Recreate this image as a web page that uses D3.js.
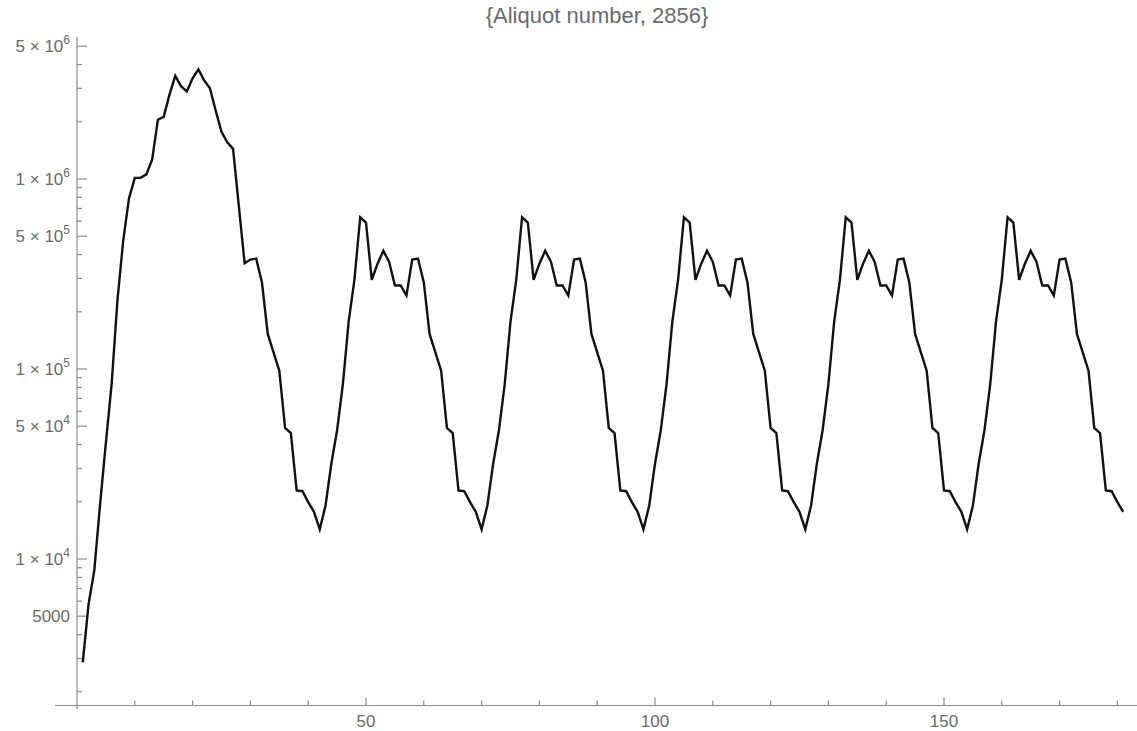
<!DOCTYPE html>
<html>
<head>
<meta charset="utf-8">
<script src="https://cdn.jsdelivr.net/npm/d3@7"></script>
<style>
  html, body { margin: 0; padding: 0; background: #fff; }
  svg { display: block; }
  text { font-family: "Liberation Sans", Arial, sans-serif; }
</style>
</head>
<body>
<svg id="chart" width="1137" height="731"></svg>
<script>
// Aliquot sequence starting at 2856 (terms 1..29, before it enters the 28-cycle)
const preperiodTerms = [
  2856, 5784, 8736, 19488, 40992, 84000, 230496, 475356, 792484, 1013852,
  1013908, 1058092, 1264340, 2049964, 2123576, 2778664, 3492536, 3077104, 2884816, 3391568,
  3775384, 3303476, 3003244, 2288756, 1773484, 1558964, 1440718, 720362, 360184
];
// Terms 30..181 (inside the sociable 28-cycle)
const cycleTerms = [
  376736, 381028, 285778, 152990, 122410, 97946, 48976, 45946, 22976, 22744, 19916, 17716,
  14316, 19116, 31704, 47616, 83328, 177792, 295488, 629072, 589786, 294896, 358336, 418904, 366556, 274924,
  275444, 243760, 376736, 381028, 285778, 152990, 122410, 97946, 48976, 45946, 22976, 22744, 19916, 17716,
  14316, 19116, 31704, 47616, 83328, 177792, 295488, 629072, 589786, 294896, 358336, 418904, 366556, 274924,
  275444, 243760, 376736, 381028, 285778, 152990, 122410, 97946, 48976, 45946, 22976, 22744, 19916, 17716,
  14316, 19116, 31704, 47616, 83328, 177792, 295488, 629072, 589786, 294896, 358336, 418904, 366556, 274924,
  275444, 243760, 376736, 381028, 285778, 152990, 122410, 97946, 48976, 45946, 22976, 22744, 19916, 17716,
  14316, 19116, 31704, 47616, 83328, 177792, 295488, 629072, 589786, 294896, 358336, 418904, 366556, 274924,
  275444, 243760, 376736, 381028, 285778, 152990, 122410, 97946, 48976, 45946, 22976, 22744, 19916, 17716,
  14316, 19116, 31704, 47616, 83328, 177792, 295488, 629072, 589786, 294896, 358336, 418904, 366556, 274924,
  275444, 243760, 376736, 381028, 285778, 152990, 122410, 97946, 48976, 45946, 22976, 22744, 19916, 17716
];
const titleText = "{Aliquot number, 2856}";
const xMajorTicks = [50, 100, 150];
const xMajorLabels = ["50", "100", "150"];
const xMinorTicks = [10, 20, 30, 40, 60, 70, 80, 90, 110, 120, 130, 140, 160, 170, 180];
const yMajorTicks = [5000, 1e4, 5e4, 1e5, 5e5, 1e6, 5e6];
const yMajorLabels = ["5000", "1 × 10^4", "5 × 10^4", "1 × 10^5", "5 × 10^5", "1 × 10^6", "5 × 10^6"];
const yMinorTicks = [2000, 3000, 4000, 6000, 7000, 8000, 9000,
  2e4, 3e4, 4e4, 6e4, 7e4, 8e4, 9e4,
  2e5, 3e5, 4e5, 6e5, 7e5, 8e5, 9e5,
  2e6, 3e6, 4e6];

const terms = preperiodTerms.concat(cycleTerms);
const data = terms.map((v, i) => ({ n: i + 1, v }));

const svg = d3.select("#chart");
const x = d3.scaleLinear().domain([0, 50]).range([77, 366]);
const y = d3.scaleLog().domain([1e4, 1e6]).range([559, 179]);

const axisColor = "#8a8a8a";
const labelColor = "#6a6a6a";
const axisX0 = 77, axisY0 = 705.5;

// axes lines
svg.append("line").attr("x1", 55).attr("x2", 1137).attr("y1", axisY0).attr("y2", axisY0)
  .attr("stroke", axisColor).attr("stroke-width", 1.2);
svg.append("line").attr("x1", axisX0).attr("x2", axisX0).attr("y1", 37).attr("y2", 709)
  .attr("stroke", axisColor).attr("stroke-width", 1.2);

// x ticks
svg.selectAll(".xmaj").data(xMajorTicks).enter().append("line")
  .attr("x1", d => x(d)).attr("x2", d => x(d)).attr("y1", axisY0).attr("y2", axisY0 - 8)
  .attr("stroke", axisColor).attr("stroke-width", 1.2);
svg.selectAll(".xmin").data(xMinorTicks).enter().append("line")
  .attr("x1", d => x(d)).attr("x2", d => x(d)).attr("y1", axisY0).attr("y2", axisY0 - 5)
  .attr("stroke", axisColor).attr("stroke-width", 1.2);
svg.selectAll(".xlab").data(xMajorTicks).enter().append("text")
  .attr("x", d => x(d)).attr("y", 727).attr("text-anchor", "middle")
  .attr("font-size", 17).attr("fill", labelColor)
  .text((d, i) => xMajorLabels[i]);

// y ticks
svg.selectAll(".ymaj").data(yMajorTicks).enter().append("line")
  .attr("x1", axisX0).attr("x2", axisX0 + 10).attr("y1", d => y(d)).attr("y2", d => y(d))
  .attr("stroke", axisColor).attr("stroke-width", 1.2);
svg.selectAll(".ymin").data(yMinorTicks).enter().append("line")
  .attr("x1", axisX0).attr("x2", axisX0 + 5).attr("y1", d => y(d)).attr("y2", d => y(d))
  .attr("stroke", axisColor).attr("stroke-width", 1.2);
yMajorTicks.forEach((t, i) => {
  const lab = yMajorLabels[i];
  const txt = svg.append("text").attr("x", 70).attr("y", y(t) + 6)
    .attr("text-anchor", "end").attr("font-size", 17).attr("fill", labelColor);
  if (lab.includes("^")) {
    const [base, exp] = lab.split("^");
    txt.append("tspan").text(base);
    txt.append("tspan").attr("font-size", 12).attr("dy", -8).text(exp);
  } else {
    txt.text(lab);
  }
});

// title
svg.append("text").attr("x", 597).attr("y", 23).attr("text-anchor", "middle")
  .attr("font-size", 22).attr("fill", labelColor).text(titleText);

// data line
const line = d3.line().x(d => x(d.n)).y(d => y(d.v)).curve(d3.curveLinear);
svg.append("path").datum(data).attr("d", line)
  .attr("fill", "none").attr("stroke", "#111").attr("stroke-width", 2.4)
  .attr("stroke-linejoin", "miter");
</script>
</body>
</html>
